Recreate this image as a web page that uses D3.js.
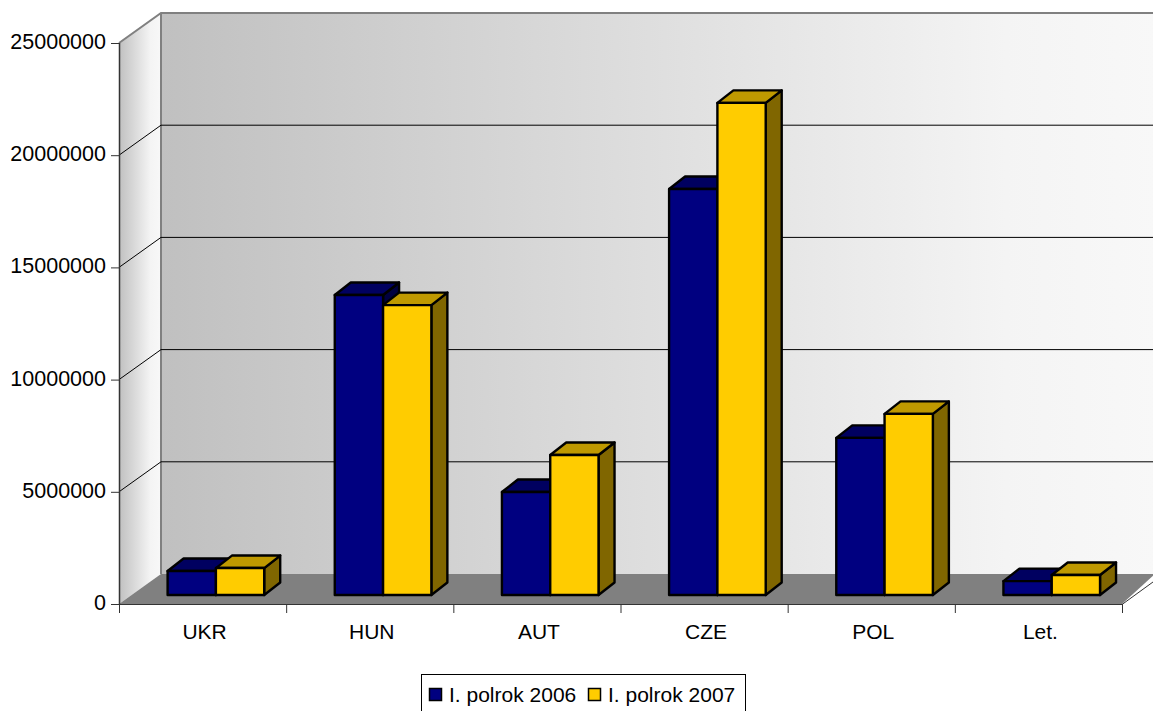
<!DOCTYPE html>
<html><head><meta charset="utf-8">
<script src="https://cdn.jsdelivr.net/npm/d3@7"></script>
<style>html,body{margin:0;padding:0;background:#fff}svg{display:block}text{font-family:"Liberation Sans",Arial,sans-serif;fill:#000}</style>
</head><body><svg id="c" width="1153" height="711"></svg>
<script>
const categories=["UKR","HUN","AUT","CZE","POL","Let."];
const seriesNames=["I. polrok 2006","I. polrok 2007"];
const values2006=[1070000,13370000,4590000,18090000,7000000,620000];
const values2007=[1200000,12920000,6240000,21930000,8070000,890000];
const yTicks=[0,5000000,10000000,15000000,20000000,25000000];
const colors=["#000080","#ffcc00"],tops=["#000060","#bf9900"],sides=["#000040","#806600"];

const svg=d3.select("#c");
const W=1153,X0=119,X1=1122,YB=604,YT=43,DX=42,DY=-30;
const x=d3.scaleBand().domain(categories).range([X0,X1]);
const y=d3.scaleLinear().domain([0,25000000]).range([YB,YT]);
const defs=svg.append("defs");
function grad(id,stops){const g=defs.append("linearGradient").attr("id",id);
 stops.forEach(s=>g.append("stop").attr("offset",s[0]).attr("stop-color",s[1]));}
grad("wall",[[0,"#c0c0c0"],[.85,"#f4f4f4"],[1,"#f8f8f8"]]);
grad("side",[[0,"#c0c0c0"],[.75,"#f4f4f4"],[1,"#f8f8f8"]]);
const pts=a=>a.map(p=>p.join(",")).join(" ");
svg.append("rect").attr("x",X0+DX).attr("y",y(25000000)+DY).attr("width",W-X0-DX+2).attr("height",YB-YT).attr("fill","url(#wall)");
svg.append("polygon").attr("points",pts([[X0,YB],[X0,YT],[X0+DX,YT+DY],[X0+DX,YB+DY]])).attr("fill","url(#side)");
svg.append("polygon").attr("points",pts([[X0,YB],[X0+DX,YB+DY],[W+2,YB+DY],[X1,YB]])).attr("fill","#808080");
const grey="#808080";
svg.append("path").attr("d",`M${X0},${YT}L${X0+DX},${YT+DY}L${W+2},${YT+DY}M${X0+DX},${YT+DY}L${X0+DX},${YB+DY}`).attr("fill","none").attr("stroke",grey).attr("stroke-width",2);
yTicks.slice(1,-1).forEach(t=>{
 svg.append("path").attr("d",`M${X0},${y(t)}L${X0+DX},${y(t)+DY}L${W+2},${y(t)+DY}`).attr("fill","none").attr("stroke","#000").attr("stroke-width",1);
});
svg.append("path").attr("d",`M${X0+.5},${YT}L${X0+.5},${YB}`).attr("stroke","#333").attr("stroke-width",1.5);
svg.append("path").attr("d",`M${X0},${YB+.5}L${X1},${YB+.5}L${X1+DX},${YB+DY}`).attr("fill","none").attr("stroke","#333").attr("stroke-width",1);
yTicks.forEach(t=>{
 svg.append("line").attr("x1",X0-8).attr("x2",X0).attr("y1",y(t)+.5).attr("y2",y(t)+.5).attr("stroke","#333");
 svg.append("text").attr("x",X0-13).attr("y",y(t)+6).attr("text-anchor","end").attr("font-size",21.5).text(t);
});
categories.concat([null]).forEach((c,i)=>{
 const px=X0+i*x.bandwidth();
 svg.append("line").attr("x1",px+.5).attr("x2",px+.5).attr("y1",YB).attr("y2",YB+9).attr("stroke","#333");
});
categories.forEach(c=>{
 svg.append("text").attr("x",x(c)+x.bandwidth()/2+2).attr("y",639).attr("text-anchor","middle").attr("font-size",21).text(c);
});
const depthX=16,depthY=-12.5,floorShift=-9,pad=48.6,barW=48.3;
const yBar=v=>y(v)+floorShift;
[values2006,values2007].forEach((vals,s)=>{
 const g=svg.append("g");
 vals.forEach((v,i)=>{
  const x0=x(categories[i])+pad+barW*s,x1=x0+barW,t=yBar(v),b=yBar(0);
  const st={stroke:"#000","stroke-width":2.4,"stroke-linejoin":"round"};
  const add=(p,f)=>{const e=g.append("polygon").attr("points",pts(p)).attr("fill",f);Object.entries(st).forEach(([k,w])=>e.attr(k,w));};
  add([[x1,b],[x1,t],[x1+depthX,t+depthY],[x1+depthX,b+depthY]],sides[s]);
  add([[x0,t],[x0+depthX,t+depthY],[x1+depthX,t+depthY],[x1,t]],tops[s]);
  add([[x0,t],[x1,t],[x1,b],[x0,b]],colors[s]);
 });
});
const lg=svg.append("g");
lg.append("rect").attr("x",421.5).attr("y",674.5).attr("width",324).attr("height",44).attr("fill","#fff").attr("stroke","#000");
seriesNames.forEach((n,i)=>{
 const lx=[429,588][i];
 lg.append("rect").attr("x",lx+.5).attr("y",688.5).attr("width",12).attr("height",12).attr("fill",colors[i]).attr("stroke","#000").attr("stroke-width",1.5);
 lg.append("text").attr("x",lx+20).attr("y",701.5).attr("font-size",21).text(n);
});
</script></body></html>
